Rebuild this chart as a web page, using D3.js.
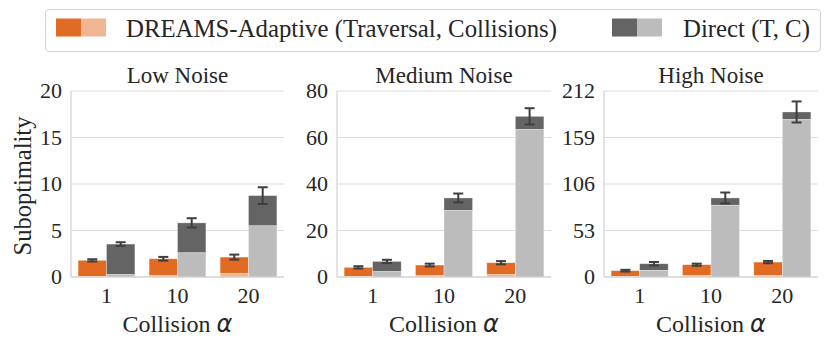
<!DOCTYPE html>
<html>
<head>
<meta charset="utf-8">
<script src="https://cdn.jsdelivr.net/npm/d3@7"></script>
</head>
<body style="margin:0; background:#fff">
<svg id="chart" width="830" height="346" style="display:block"></svg>
<script>
const alphas = ["1", "10", "20"];
const panelTitles = ["Low Noise", "Medium Noise", "High Noise"];
const yMax = [20, 80, 212];
const yTicks = [[0, 5, 10, 15, 20], [0, 20, 40, 60, 80], [0, 53, 106, 159, 212]];

// traversal (dark) stacked on collisions (light), one row per panel
const dreamsTraversal = [[1.74, 1.82, 1.78], [3.94, 4.54, 5.14], [6.4, 12.5, 15.1]];
const dreamsCollisions = [[0.05, 0.14, 0.36], [0.2, 0.6, 1.0], [0.8, 1.5, 1.9]];
const dreamsErr = [[0.12, 0.2, 0.27], [0.5, 0.6, 0.7], [1.0, 1.2, 1.3]];

const directTraversal = [[3.29, 3.22, 3.25], [4.4, 5.4, 5.7], [7.5, 8.3, 8.7]];
const directCollisions = [[0.25, 2.6, 5.5], [2.3, 28.6, 63.4], [7.6, 81.8, 179.4]];
const directErr = [[0.2, 0.5, 0.9], [0.7, 1.9, 3.5], [2.0, 6.2, 12.0]];

const methods = ["DREAMS-Adaptive (Traversal, Collisions)", "Direct (T, C)"];
const darkColors = ["#e16b22", "#646464"];
const lightColors = ["#f2b591", "#bcbcbc"];

const serif = '"Liberation Serif", Tinos, "Times New Roman", serif';
const svg = d3.select("#chart");

const panelX = [[71, 284], [337, 551], [604, 818]];
const plotTop = 91, plotBottom = 277;

panelTitles.forEach((title, p) => {
  const [x0, x1] = panelX[p];
  const g = svg.append("g");

  const x = d3.scaleBand().domain(alphas).range([x0, x1]).paddingInner(0.2).paddingOuter(0.1);
  const xh = d3.scaleBand().domain([0, 1]).range([0, x.bandwidth()]);
  const y = d3.scaleLinear().domain([0, yMax[p]]).range([plotBottom, plotTop]);

  // grid
  g.selectAll("line.grid")
    .data(yTicks[p])
    .join("line")
    .attr("x1", x0).attr("x2", x1)
    .attr("y1", d => y(d)).attr("y2", d => y(d))
    .attr("stroke", "#dcdcdc")
    .attr("stroke-width", 1.2);

  // left spine
  g.append("line")
    .attr("x1", x0).attr("x2", x0).attr("y1", plotTop).attr("y2", plotBottom)
    .attr("stroke", "#d0d0d0").attr("stroke-width", 1.2);

  const rows = [];
  alphas.forEach((a, i) => {
    rows.push({ a, m: 0, trav: dreamsTraversal[p][i], coll: dreamsCollisions[p][i], err: dreamsErr[p][i] });
    rows.push({ a, m: 1, trav: directTraversal[p][i], coll: directCollisions[p][i], err: directErr[p][i] });
  });

  const bx = d => x(d.a) + xh(d.m);

  // dark (traversal) on top of light (collisions)
  g.selectAll("rect.trav")
    .data(rows)
    .join("rect")
    .attr("x", bx)
    .attr("width", xh.bandwidth())
    .attr("y", d => y(d.trav + d.coll))
    .attr("height", d => y(d.coll) - y(d.trav + d.coll))
    .attr("fill", d => darkColors[d.m])
    .attr("stroke", "#ffffff").attr("stroke-width", 0.6).attr("stroke-opacity", 0.5);

  g.selectAll("rect.coll")
    .data(rows)
    .join("rect")
    .attr("x", bx)
    .attr("width", xh.bandwidth())
    .attr("y", d => y(d.coll))
    .attr("height", d => y(0) - y(d.coll))
    .attr("fill", d => lightColors[d.m])
    .attr("stroke", "#ffffff").attr("stroke-width", 0.6).attr("stroke-opacity", 0.5);

  // bottom spine
  g.append("line")
    .attr("x1", x0).attr("x2", x1).attr("y1", plotBottom).attr("y2", plotBottom)
    .attr("stroke", "#d0d0d0").attr("stroke-width", 1.2);

  // error bars
  const cx = d => bx(d) + xh.bandwidth() / 2;
  const capW = 5;
  const eb = g.selectAll("g.err").data(rows).join("g")
    .attr("stroke", "#3f3f3f").attr("stroke-width", 2);
  eb.append("line")
    .attr("x1", cx).attr("x2", cx)
    .attr("y1", d => y(d.trav + d.coll - d.err))
    .attr("y2", d => y(d.trav + d.coll + d.err));
  eb.append("line")
    .attr("x1", d => cx(d) - capW).attr("x2", d => cx(d) + capW)
    .attr("y1", d => y(d.trav + d.coll + d.err)).attr("y2", d => y(d.trav + d.coll + d.err));
  eb.append("line")
    .attr("x1", d => cx(d) - capW).attr("x2", d => cx(d) + capW)
    .attr("y1", d => y(d.trav + d.coll - d.err)).attr("y2", d => y(d.trav + d.coll - d.err));

  // y tick labels
  g.selectAll("text.ytick")
    .data(yTicks[p])
    .join("text")
    .attr("x", x0 - 9)
    .attr("y", d => y(d))
    .attr("dy", "0.34em")
    .attr("text-anchor", "end")
    .attr("font-size", 22)
    .attr("fill", "#262626")
    .style("font-family", serif)
    .text(d => d);

  // x tick labels
  g.selectAll("text.xtick")
    .data(alphas)
    .join("text")
    .attr("x", d => x(d) + x.bandwidth() / 2)
    .attr("y", 303)
    .attr("text-anchor", "middle")
    .attr("font-size", 22)
    .attr("fill", "#262626")
    .style("font-family", serif)
    .text(d => d);

  // title
  g.append("text")
    .attr("x", (x0 + x1) / 2)
    .attr("y", 83)
    .attr("text-anchor", "middle")
    .attr("font-size", 23)
    .attr("fill", "#262626")
    .style("font-family", serif)
    .text(title);

  // x label
  const xl = g.append("text")
    .attr("x", (x0 + x1) / 2)
    .attr("y", 332)
    .attr("text-anchor", "middle")
    .attr("font-size", 24)
    .attr("fill", "#262626")
    .style("font-family", serif);
  xl.append("tspan").text("Collision ");
  xl.append("tspan")
    .style("font-family", '"DejaVu Sans"')
    .style("font-style", "italic")
    .text("α");
});

// y label
svg.append("text")
  .attr("transform", "translate(31,186) rotate(-90)")
  .attr("text-anchor", "middle")
  .attr("font-size", 24.5)
  .attr("fill", "#262626")
  .style("font-family", serif)
  .text("Suboptimality");

// legend
const leg = svg.append("g");
leg.append("rect")
  .attr("x", 45.5).attr("y", 9.5).attr("width", 775).attr("height", 42)
  .attr("rx", 4)
  .attr("fill", "#fff")
  .attr("stroke", "#d6d6d6").attr("stroke-width", 1.2);

const legX = [56, 612];
const legTextX = [126, 683];
methods.forEach((m, i) => {
  leg.append("rect")
    .attr("x", legX[i]).attr("y", 18.5).attr("width", 25).attr("height", 18)
    .attr("fill", darkColors[i]);
  leg.append("rect")
    .attr("x", legX[i] + 25).attr("y", 18.5).attr("width", 25).attr("height", 18)
    .attr("fill", lightColors[i]);
  leg.append("text")
    .attr("x", legTextX[i]).attr("y", 37)
    .attr("font-size", 24.8)
    .attr("fill", "#262626")
    .style("font-family", serif)
    .text(m);
});
</script>
</body>
</html>
